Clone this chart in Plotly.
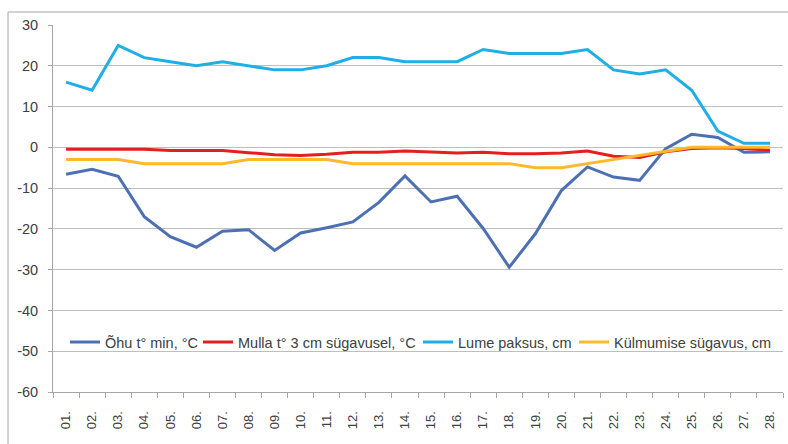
import plotly.graph_objects as go

days = ["01.", "02.", "03.", "04.", "05.", "06.", "07.", "08.", "09.", "10.",
        "11.", "12.", "13.", "14.", "15.", "16.", "17.", "18.", "19.", "20.",
        "21.", "22.", "23.", "24.", "25.", "26.", "27.", "28."]

ohu_min = [-6.6, -5.4, -7.1, -17.0, -21.9, -24.5, -20.6, -20.2, -25.3, -21.0,
           -19.7, -18.3, -13.5, -7.0, -13.4, -12.0, -19.9, -29.4, -21.2, -10.6,
           -4.8, -7.3, -8.1, -0.3, 3.2, 2.4, -1.2, -1.1]
mulla = [-0.5, -0.5, -0.5, -0.5, -0.8, -0.8, -0.8, -1.3, -1.8, -2.0,
         -1.7, -1.2, -1.2, -0.9, -1.1, -1.4, -1.2, -1.6, -1.6, -1.4,
         -0.9, -2.2, -2.5, -1.1, -0.3, -0.1, -0.3, -0.7]
lume = [16, 14, 25, 22, 21, 20, 21, 20, 19, 19,
        20, 22, 22, 21, 21, 21, 24, 23, 23, 23,
        24, 19, 18, 19, 14, 4, 1, 1]
kylm = [-3, -3, -3, -4, -4, -4, -4, -3, -3, -3,
        -3, -4, -4, -4, -4, -4, -4, -4, -5, -5,
        -4, -3, -2, -1, 0, 0, 0, 0]

series_names = ["Õhu t° min, °C", "Mulla t° 3 cm sügavusel, °C",
                "Lume paksus, cm", "Külmumise sügavus, cm"]
colors = ["#4D70B4", "#E3201E", "#1FAEE6", "#FDB92A"]

y_ticks = [30, 20, 10, 0, -10, -20, -30, -40, -50, -60]
y_tick_text = ["30", "20", "10", "0", "-10", "-20", "-30", "-40", "-50", "-60"]

# legend entry left edges (pixels from plot-area left edge)
legend_left_px = [12, 145, 365, 521]
legend_ids = ["legend", "legend2", "legend3", "legend4"]

PLOT_W = 730

fig = go.Figure()
for name, vals, col, lid in zip(series_names, [ohu_min, mulla, lume, kylm], colors, legend_ids):
    fig.add_trace(go.Scatter(x=days, y=vals, mode="lines", name=name, legend=lid,
                             line=dict(color=col, width=3)))

legend_common = dict(orientation="h", y=0.136, xanchor="left", yanchor="middle",
                     bgcolor="rgba(0,0,0,0)", font=dict(size=14.5, color="#404040"),
                     itemwidth=30, tracegroupgap=0)
legend_layout = {lid: dict(x=px / PLOT_W, **legend_common)
                 for lid, px in zip(legend_ids, legend_left_px)}

fig.update_layout(
    width=788, height=444,
    margin=dict(l=53, r=5, t=25, b=52, autoexpand=False),
    paper_bgcolor="white", plot_bgcolor="white",
    font=dict(family="Liberation Sans, Arial", color="#404040", size=13),
    showlegend=True,
    **legend_layout,
)
fig.update_xaxes(type="category", range=[-0.5, len(days) - 0.5],
                 showgrid=False, showline=True, linecolor="#A6A6A6",
                 linewidth=1, ticks="outside", tickson="boundaries", ticklen=5,
                 tickcolor="#A6A6A6", tickangle=-90, automargin=False,
                 ticklabelstandoff=13,
                 tickfont=dict(size=13, color="#404040"))
fig.update_yaxes(range=[-60, 30], tickvals=y_ticks, ticktext=y_tick_text,
                 showgrid=True, gridcolor="#BEBEBE", gridwidth=1, zeroline=False,
                 showline=True, linecolor="#A6A6A6", ticks="outside", ticklen=4,
                 tickcolor="#A6A6A6", automargin=False, ticklabelstandoff=7,
                 tickfont=dict(size=14.5, color="#404040"))

# white band behind the legend (hides the gridline there, as in the original)
fig.add_shape(type="rect", xref="paper", yref="y", x0=9/PLOT_W, x1=1 - 2/PLOT_W,
              y0=-53, y1=-47, line=dict(width=0), fillcolor="white", layer="between")

# outer chart border
fig.add_shape(type="rect", xref="paper", yref="paper",
              x0=-45/PLOT_W, x1=1.1, y0=-0.5, y1=1 + 13/367,
              line=dict(color="#A6A6A6", width=1), fillcolor="rgba(0,0,0,0)", layer="above")

fig.write_html("out.html", config={"displayModeBar": False},
               post_script="document.body.style.margin='0';")
